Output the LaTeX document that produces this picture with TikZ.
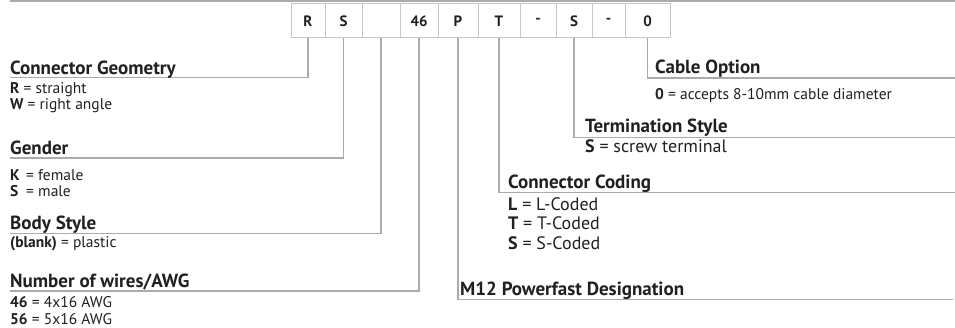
\documentclass[tikz,border=0pt]{standalone}
\usepackage{fontspec}
\setmainfont{PT Sans}
\usetikzlibrary{positioning}

\definecolor{leadgray}{HTML}{ABABAB}
\definecolor{boxgray}{HTML}{C6C6C6}
\definecolor{textdark}{HTML}{231F20}

\tikzset{
  cell/.style={draw=boxgray, line width=1pt, outer sep=0pt, inner sep=0pt,
    minimum height=34pt, text=textdark, font=\bfseries\fontsize{15}{17}\selectfont},
  lead/.style={draw=leadgray, line width=1.3pt},
  head/.style={anchor=base west, inner sep=0pt, text=textdark,
    font=\bfseries\fontsize{19}{21}\selectfont},
  item/.style={anchor=base west, inner sep=0pt, text=textdark,
    font=\fontsize{15.5}{18}\selectfont},
  bigitem/.style={item, font=\fontsize{18}{20}\selectfont},
}

\begin{document}
\begin{tikzpicture}[x=1pt, y=-1pt]
  \useasboundingbox (0,0) rectangle (955,328);
  \draw[leadgray, line width=1.5pt] (10,0.8) -- (955,0.8);

  % the part number, one cell per field
  \node[cell, minimum width=34pt, anchor=north west] (cR) at (291,4) {R};
  \node[cell, minimum width=37pt, right=0pt of cR] (cS) {S};
  \node[cell, minimum width=38pt, right=0pt of cS] (cBlank) {};
  \node[cell, minimum width=38pt, right=0pt of cBlank] (c46) {46};
  \node[cell, minimum width=40pt, right=0pt of c46] (cP) {P};
  \node[cell, minimum width=42pt, right=0pt of cP] (cT) {T};
  \node[cell, minimum width=36pt, right=0pt of cT] (cDashA) {-};
  \node[cell, minimum width=36pt, right=0pt of cDashA] (cTerm) {S};
  \node[cell, minimum width=33pt, right=0pt of cTerm] (cDashB) {-};
  \node[cell, minimum width=45pt, right=0pt of cDashB] (c0) {0};

  % ends of the leaders
  \coordinate (eGeom) at (10,77.5);
  \coordinate (eGender) at (10,158);
  \coordinate (eBody) at (10,233.5);
  \coordinate (eWires) at (10,291);
  \coordinate (eM12) at (953,299.5);
  \coordinate (eCoding) at (955,192.5);
  \coordinate (eTerm) at (955,137.5);
  \coordinate (eCable) at (955,78);

  \draw[lead] (cR.south) |- (eGeom);
  \draw[lead] (cS.south) |- (eGender);
  \draw[lead] (cBlank.south) |- (eBody);
  \draw[lead] (c46.south) |- (eWires);
  \draw[lead] (cP.south) |- (eM12);
  \draw[lead] (cT.south) |- (eCoding);
  \draw[lead] (cTerm.south) |- (eTerm);
  \draw[lead] (c0.south) |- (eCable);

  % left side
  \node[head] (hGeom) at (10,74.5) {Connector Geometry};
  \node[item] (iGeomR) at (10,94) {\textbf{R} = straight};
  \node[item] (iGeomW) at (10,110) {\textbf{W} = right angle};
  \node[head] (hGender) at (10,154.5) {Gender};
  \node[item] (iGenK) at (10,181) {\makebox[16pt][l]{\textbf{K}}= female};
  \node[item] (iGenS) at (10,197) {\makebox[16pt][l]{\textbf{S}}= male};
  \node[head] (hBody) at (10,230) {Body Style};
  \node[item] (iBody) at (10,248) {\textbf{(blank)} = plastic};
  \node[head] (hWires) at (10,287.5) {Number of wires/AWG};
  \node[item] (iW46) at (10,308) {\textbf{46} = 4x16 AWG};
  \node[item] (iW56) at (10,324.5) {\textbf{56} = 5x16 AWG};

  % right side
  \node[head] (hCable) at (655,74) {Cable Option};
  \node[item] (iCable) at (655,100) {\textbf{0} = accepts 8-10mm cable diameter};
  \node[head] (hTerm) at (585,133) {Termination Style};
  \node[bigitem] (iTerm) at (585,152.5) {\textbf{S} = screw terminal};
  \node[head] (hCoding) at (508,188.5) {Connector Coding};
  \node[bigitem] (iCodL) at (508,210.5) {\textbf{L} = L-Coded};
  \node[bigitem] (iCodT) at (508,230) {\textbf{T} = T-Coded};
  \node[bigitem] (iCodS) at (508,249.5) {\textbf{S} = S-Coded};
  \node[head] (hM12) at (460,295.5) {M12 Powerfast Designation};
\end{tikzpicture}
\end{document}
